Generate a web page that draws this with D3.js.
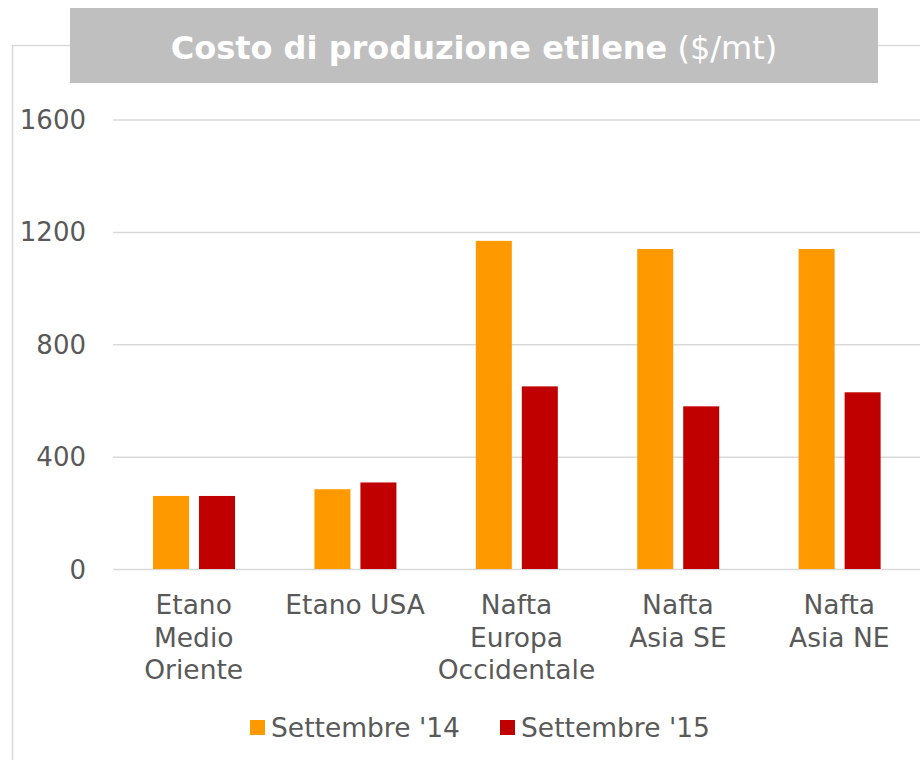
<!DOCTYPE html>
<html>
<head>
<meta charset="utf-8">
<script src="https://cdn.jsdelivr.net/npm/d3@7"></script>
<style>
body { margin: 0; background: #fff; }
svg text { font-family: Verdana, "DejaVu Sans", sans-serif; }
</style>
</head>
<body>
<script>
var categories = [["Etano", "Medio", "Oriente"], ["Etano USA"], ["Nafta", "Europa", "Occidentale"], ["Nafta", "Asia SE"], ["Nafta", "Asia NE"]];
var series = ["Settembre '14", "Settembre '15"];
var sett14 = [260, 284, 1168, 1139, 1139];
var sett15 = [260, 308, 650, 579, 629];
var yTicks = [0, 400, 800, 1200, 1600];
var colors = ["#ff9900", "#c00000"];

var width = 920, height = 760;
var svg = d3.select("body")
	.append("svg")
	.attr("width", width)
	.attr("height", height);

var plotL = 113, plotR = 920, plotT = 119.5, plotB = 569;

var x0 = d3.scaleBand()
	.domain(d3.range(categories.length))
	.range([plotL, plotR]);

var x1 = d3.scaleBand()
	.domain(series)
	.range([x0.bandwidth() * 0.248, x0.bandwidth() * 0.756])
	.paddingInner(0.217);

var y = d3.scaleLinear()
	.domain([0, 1600])
	.range([plotB, plotT]);

// frame
svg.append("path")
	.attr("d", "M12.5," + height + " L12.5,45.5 L" + width + ",45.5")
	.attr("fill", "none")
	.attr("stroke", "#d9d9d9")
	.attr("stroke-width", 1.5);

// title
svg.append("rect")
	.attr("x", 70)
	.attr("y", 8)
	.attr("width", 808)
	.attr("height", 75)
	.attr("fill", "#bfbfbf");

var title = svg.append("text")
	.attr("x", 474)
	.attr("y", 59)
	.attr("text-anchor", "middle")
	.attr("font-size", "32px")
	.attr("fill", "white");
title.append("tspan").attr("font-weight", "bold").text("Costo di produzione etilene");
title.append("tspan").text(" ($/mt)");

// grid + y axis
var yAxis = svg.append("g")
	.attr("transform", "translate(" + plotL + ",0)")
	.call(d3.axisLeft(y).tickValues(yTicks).tickSize(-(plotR - plotL)).tickPadding(27).tickFormat(d3.format("d")));
yAxis.select(".domain").remove();
yAxis.selectAll(".tick line")
	.attr("stroke", "#d9d9d9")
	.attr("stroke-width", 1.5);
yAxis.selectAll(".tick text")
	.attr("fill", "#595959")
	.attr("font-size", "26px")
	.attr("font-family", "Verdana, 'DejaVu Sans', sans-serif")
	.attr("dy", "0.35em");

// bars
var groups = svg.selectAll(".grp")
	.data(categories.map(function (c, i) { return [sett14[i], sett15[i]]; }))
	.enter().append("g")
	.attr("transform", function (d, i) { return "translate(" + x0(i) + ",0)"; });

groups.selectAll("rect")
	.data(function (d) { return d.map(function (v, j) { return { s: series[j], v: v, j: j }; }); })
	.enter().append("rect")
	.attr("x", function (d) { return x1(d.s); })
	.attr("width", x1.bandwidth())
	.attr("y", function (d) { return y(d.v); })
	.attr("height", function (d) { return y(0) - y(d.v); })
	.attr("fill", function (d) { return colors[d.j]; });

// category labels
categories.forEach(function (lines, i) {
	var t = svg.append("text")
		.attr("x", x0(i) + x0.bandwidth() / 2)
		.attr("y", 614)
		.attr("text-anchor", "middle")
		.attr("font-size", "26.5px")
		.attr("fill", "#595959");
	lines.forEach(function (l, k) {
		t.append("tspan")
			.attr("x", x0(i) + x0.bandwidth() / 2)
			.attr("dy", k === 0 ? 0 : 32.5)
			.text(l);
	});
});

// legend
var legendX = [250, 500];
series.forEach(function (s, j) {
	svg.append("rect")
		.attr("x", legendX[j])
		.attr("y", 720)
		.attr("width", 15)
		.attr("height", 15)
		.attr("fill", colors[j]);
	svg.append("text")
		.attr("x", legendX[j] + 21)
		.attr("y", 737)
		.attr("font-size", "26.5px")
		.attr("fill", "#595959")
		.text(s);
});
</script>
</body>
</html>
